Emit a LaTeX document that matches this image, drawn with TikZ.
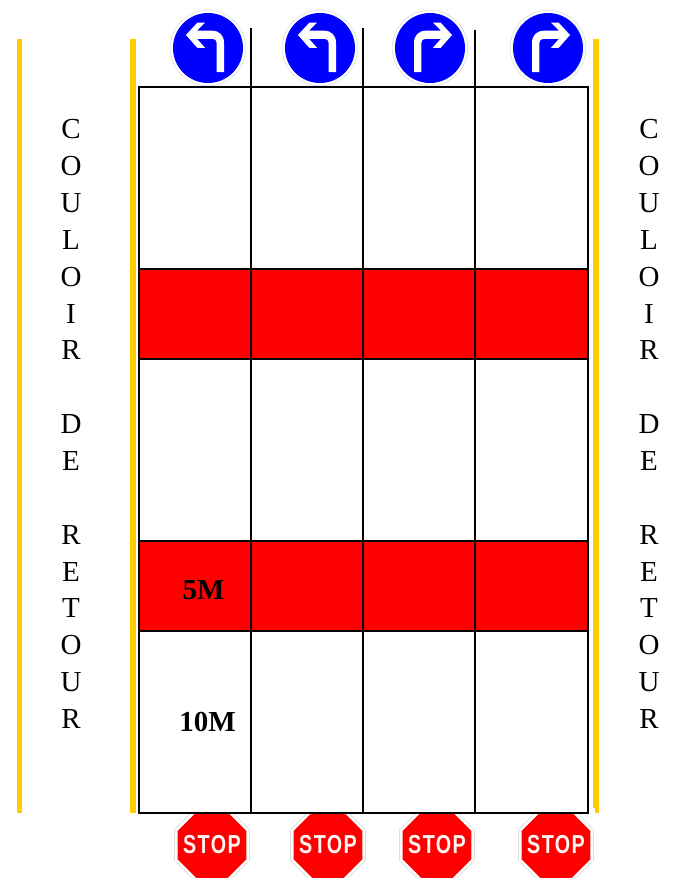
\documentclass[tikz,border=0pt]{standalone}
\usepackage{fontspec}
\setmainfont{Liberation Serif}
\newfontfamily\stopfont[LetterSpace=7]{Liberation Sans}
\definecolor{barY}{HTML}{FFCC00}
\definecolor{signB}{HTML}{0000FF}
\definecolor{signR}{HTML}{FF0000}
\definecolor{rimG}{HTML}{DEDEE2}
\tikzset{
  yellowbar/.style={fill=barY,draw=none},
  gridline/.style={draw=black,line width=2pt},
  redband/.style={fill=signR,draw=none},
  sidetext/.style={align=center,inner sep=0pt,font=\fontsize{29}{36.85}\selectfont},
  distlabel/.style={inner sep=0pt,font=\fontsize{29}{30}\selectfont\bfseries},
  stoplabel/.style={inner sep=0pt,text=white!96!signR,xscale=.76,font=\fontsize{26}{26}\selectfont\stopfont\bfseries},
  pics/turnsign/.style={code={
    \fill[white] (0,0) circle (38);
    \draw[rimG,line width=.7pt] (0,0) circle (37.8);
    \fill[signB] (0,0) circle (35);
    \fill[white,xscale=#1] (-22,-13) -- (-10.7,-25.3) -- (-3,-25.3) -- (-11,-17.3) -- (4,-17.3)
      .. controls (11.5,-17.3) and (16,-12.5) .. (16,-5) -- (16,24) -- (8.7,24) -- (8.7,-5)
      .. controls (8.7,-7.8) and (7,-9.2) .. (4,-9.2) -- (-11,-9.2) -- (-3,-.2) -- (-10.7,-.2) -- cycle;
  }},
  pics/stopsign/.style={code={
    \begin{scope}
    \clip (-40,-31.5) rectangle (40,33);
    \fill[white] (-15.5,-37.5) -- (15.5,-37.5) -- (37.5,-15.5) -- (37.5,15.5) -- (15.5,37.5) -- (-15.5,37.5) -- (-37.5,15.5) -- (-37.5,-15.5) -- cycle;
    \draw[rimG,line width=.7pt] (-15.5,-37.5) -- (15.5,-37.5) -- (37.5,-15.5) -- (37.5,15.5) -- (15.5,37.5) -- (-15.5,37.5) -- (-37.5,15.5) -- (-37.5,-15.5) -- cycle;
    \fill[signR] (-14.2,-34.3) -- (14.2,-34.3) -- (34.3,-14.2) -- (34.3,14.2) -- (14.2,34.3) -- (-14.2,34.3) -- (-34.3,14.2) -- (-34.3,-14.2) -- cycle;
    \end{scope}
    \node[stoplabel] at (0,0) {STOP};
  }},
}
\begin{document}
\begin{tikzpicture}[x=1pt,y=-1pt]
\useasboundingbox (0,0) rectangle (700,878);
% yellow bars
\fill[yellowbar] (16.7,39) rectangle (22,813);
\fill[yellowbar] (130.3,39) rectangle (136,813);
\fill[yellowbar] (593,39) rectangle (598.5,808);
\fill[yellowbar] (595,808) rectangle (598.5,813);
% red bands
\fill[redband] (139,269) rectangle (588,359);
\fill[redband] (139,541) rectangle (588,631);
% signs
\pic at (208,48) {turnsign=1};
\pic at (320,48) {turnsign=1};
\pic at (430,48) {turnsign=-1};
\pic at (548,48) {turnsign=-1};
\pic at (212,845) {stopsign};
\pic at (328,845) {stopsign};
\pic at (437,845) {stopsign};
\pic at (556,845) {stopsign};
% grid
\draw[gridline] (139,87) rectangle (588,813);
\draw[gridline] (251,28) -- (251,813);
\draw[gridline] (363,28) -- (363,813);
\draw[gridline] (475,30) -- (475,813);
\foreach \yy in {269,359,541,631}{\draw[gridline] (139,\yy) -- (588,\yy);}
% text
\node[sidetext] (leftlane) at (71,424) {C\\O\\U\\L\\O\\I\\R\\\mbox{}\\D\\E\\\mbox{}\\R\\E\\T\\O\\U\\R};
\node[sidetext] (rightlane) at (649,424) {C\\O\\U\\L\\O\\I\\R\\\mbox{}\\D\\E\\\mbox{}\\R\\E\\T\\O\\U\\R};
\node[distlabel] (five) at (203.5,590.5) {5M};
\node[distlabel] (ten) at (207.5,721.5) {10M};
\end{tikzpicture}
\end{document}
